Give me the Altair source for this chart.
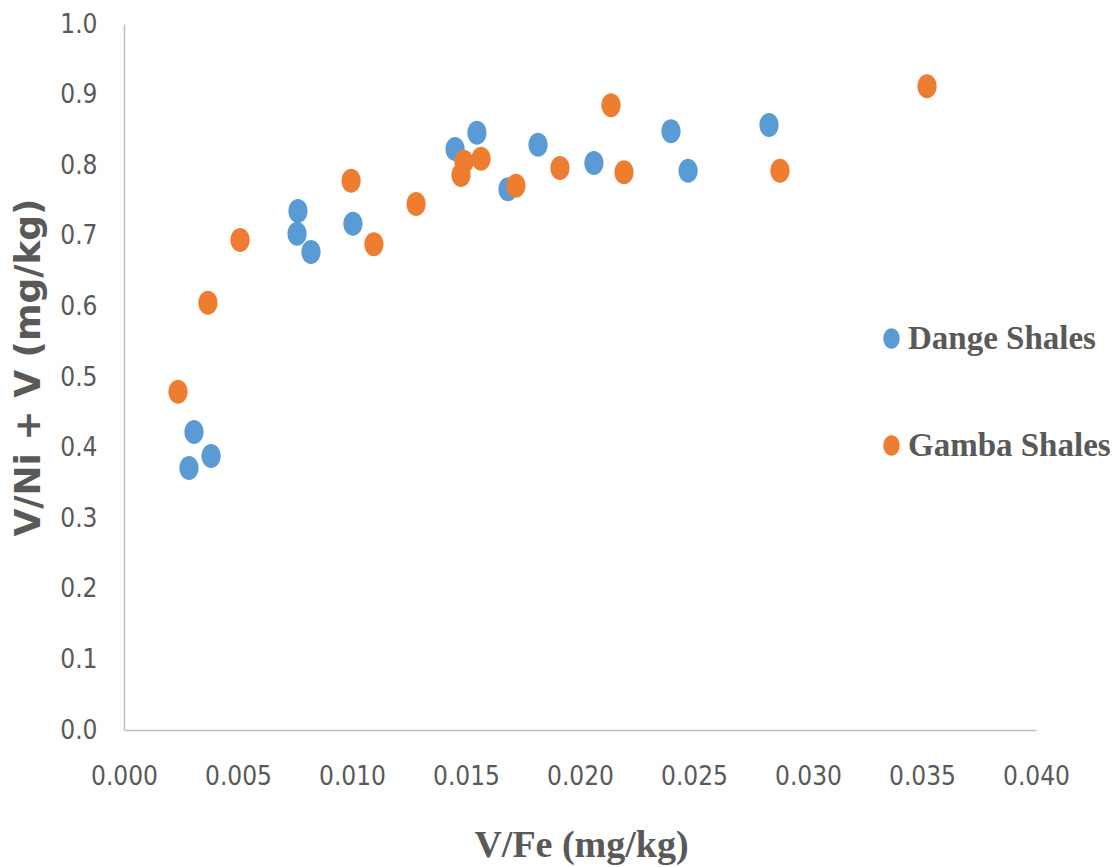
import altair as alt
import pandas as pd

series_names = ["Dange Shales", "Gamba Shales"]
dange_x = [0.00285, 0.00307, 0.00382, 0.00763, 0.00759, 0.00820, 0.01004, 0.01452,
           0.01548, 0.01684, 0.01816, 0.02061, 0.02399, 0.02474, 0.02829]
dange_y = [0.371, 0.422, 0.388, 0.735, 0.703, 0.677, 0.717, 0.823,
           0.846, 0.766, 0.829, 0.803, 0.848, 0.792, 0.857]
gamba_x = [0.00237, 0.00368, 0.00509, 0.00996, 0.01096, 0.01281, 0.01478, 0.01491,
           0.01566, 0.01719, 0.01912, 0.02136, 0.02193, 0.02877, 0.03522]
gamba_y = [0.479, 0.605, 0.694, 0.778, 0.688, 0.745, 0.786, 0.805,
           0.809, 0.771, 0.796, 0.885, 0.790, 0.792, 0.912]
x_ticks = [0.0, 0.005, 0.010, 0.015, 0.020, 0.025, 0.030, 0.035, 0.040]
y_ticks = [0.0, 0.1, 0.2, 0.3, 0.4, 0.5, 0.6, 0.7, 0.8, 0.9, 1.0]
colors = ["#5B9BD5", "#ED7D31"]

df = pd.concat([
    pd.DataFrame({"x": dange_x, "y": dange_y, "series": series_names[0]}),
    pd.DataFrame({"x": gamba_x, "y": gamba_y, "series": series_names[1]}),
], ignore_index=True)

ellipse = "M0,-1A0.8,1,0,1,1,0,1A0.8,1,0,1,1,0,-1Z"
tick_font = "Liberation Sans Narrow, DejaVu Sans Condensed, Lato, sans-serif"

chart = alt.Chart(df).mark_point(filled=True, opacity=1, shape=ellipse, size=576).encode(
    x=alt.X("x:Q", scale=alt.Scale(domain=[0, 0.04], nice=False, zero=False),
            axis=alt.Axis(values=x_ticks, format=".3f", title="V/Fe (mg/kg)",
                          titleFont="Liberation Serif", titleFontSize=38, titleFontWeight="bold",
                          titleColor="#595959", titleX=457, titleY=126,
                          titleAlign="center", titleBaseline="alphabetic",
                          labelPadding=33, labelOverlap=False, labelFlush=False)),
    y=alt.Y("y:Q", scale=alt.Scale(domain=[0, 1], nice=False),
            axis=alt.Axis(values=y_ticks, format=".1f", title="V/Ni + V (mg/kg)",
                          titleFont="DejaVu Sans", titleFontSize=36, titleFontWeight="bold",
                          titleColor="#595959", titleX=-96, titleY=343, titleAngle=-90,
                          titleAlign="center", titleBaseline="middle",
                          labelPadding=27, labelOverlap=False, labelFlush=False)),
    color=alt.Color("series:N", scale=alt.Scale(domain=series_names, range=colors),
                    legend=alt.Legend(title=None, orient="none", legendX=751, legendY=298,
                                      direction="vertical", symbolType=ellipse,
                                      symbolSize=420, symbolOpacity=1,
                                      labelFont="Liberation Serif", labelFontSize=33,
                                      labelFontWeight="bold", labelColor="#595959",
                                      labelLimit=500,
                                      labelOffset=0, rowPadding=73, padding=0)),
).properties(
    width=912, height=706,
    background="white",
    autosize=alt.AutoSizeParams(type="none"),
    padding={"left": 124, "top": 24, "right": 83, "bottom": 137},
).configure_view(stroke=None).configure_axis(
    grid=False, ticks=False, tickSize=0,
    domainColor="#BFBFBF", domainWidth=1.5,
    labelFont=tick_font, labelFontSize=26, labelColor="#595959",
)

chart.save("out.html", embed_options={"renderer": "svg", "actions": False})
